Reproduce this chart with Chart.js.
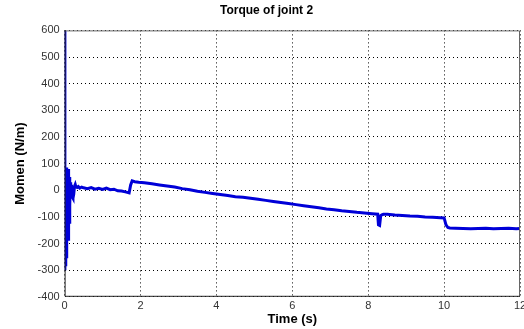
<!DOCTYPE html>
<html>
<head>
<meta charset="utf-8">
<script src="https://cdn.jsdelivr.net/npm/chart.js@4"></script>
<style>
  html, body { margin: 0; padding: 0; background: #fff; overflow: hidden; }
  #wrap { width: 540px; height: 329px; }
</style>
</head>
<body>
<div id="wrap"><canvas id="TorqueChart" width="540" height="329"></canvas></div>
<script>
const titleText = 'Torque of joint 2';
const xLabel = 'Time (s)';
const yLabel = 'Momen (N/m)';

// time (s) and torque (N/m)
const time = [
  0, 0.005, 0.01, 0.02, 0.03, 0.04, 0.05, 0.06, 0.07, 0.08, 0.09, 0.1, 0.11, 0.12, 0.13, 0.14, 0.15, 0.16,
  0.18, 0.2, 0.22, 0.24, 0.26, 0.28, 0.3, 0.33, 0.36, 0.4, 0.45, 0.5, 0.6, 0.7, 0.8, 0.9, 1.0,
  1.1, 1.2, 1.3, 1.4, 1.5, 1.6, 1.65, 1.7, 1.74, 1.78, 1.85, 1.95, 2.1, 2.3, 2.5, 2.7, 2.9,
  3.1, 3.3, 3.5, 3.7, 3.9, 4.1, 4.3, 4.5, 4.7, 4.9, 5.1, 5.3, 5.5, 5.7, 5.9, 6.1, 6.3, 6.5,
  6.7, 6.9, 7.1, 7.3, 7.5, 7.7, 7.9, 8.1, 8.25, 8.27, 8.3, 8.33, 8.36, 8.4, 8.5, 8.7, 8.9,
  9.1, 9.3, 9.5, 9.7, 9.9, 10.0, 10.05, 10.1, 10.15, 10.3, 10.5, 10.7, 10.9, 11.1, 11.3,
  11.5, 11.7, 11.9, 12
];
const torque = [
  600, -300, 80, -280, 75, -250, 85, -200, 70, -150, 80, -190, 60, -120, 50, -60, 30, -10,
  20, -25, -30, -15, 15, 22, 12, 10, 14, 8, 12, 9, 6, 10, 4, 7, 3,
  8, 2, 4, -2, -3, -6, -8, -10, 20, 35, 32, 30, 28, 24, 20, 16, 12,
  6, 2, -4, -8, -12, -16, -20, -24, -26, -30, -34, -38, -42, -46, -50, -54, -58, -62,
  -66, -70, -73, -77, -80, -83, -85, -88, -90, -130, -132, -95, -92, -90, -90, -93, -95,
  -97, -98, -100, -101, -103, -104, -130, -140, -142, -143, -144, -145, -144, -143, -145,
  -144, -143, -145, -144
];
const xTicks = [0, 2, 4, 6, 8, 10, 12];
const yTicks = [-400, -300, -200, -100, 0, 100, 200, 300, 400, 500, 600];

const points = time.map((t, i) => ({ x: t, y: torque[i] }));

const framePlugin = {
  id: 'frame',
  afterDraw(chart) {
    const a = chart.chartArea;
    const c = chart.ctx;
    c.save();
    c.strokeStyle = '#666';
    c.lineWidth = 1;
    c.beginPath();
    c.moveTo(a.left, a.top + 0.5);
    c.lineTo(a.right - 0.5, a.top + 0.5);
    c.lineTo(a.right - 0.5, a.bottom);
    c.stroke();
    c.strokeStyle = '#222';
    c.beginPath();
    c.moveTo(a.left + 0.5, a.top);
    c.lineTo(a.left + 0.5, a.bottom - 0.5);
    c.lineTo(a.right, a.bottom - 0.5);
    c.stroke();
    c.restore();
  }
};

const chart_config = {
  type: 'line',
  data: {
    datasets: [{
      label: 'Torque',
      data: points,
      borderColor: '#0000d8',
      borderWidth: 3,
      pointRadius: 0,
      tension: 0,
      fill: false
    }]
  },
  options: {
    responsive: false,
    animation: false,
    layout: { padding: { top: 0, right: 20, bottom: 0, left: 13 } },
    scales: {
      x: {
        type: 'linear',
        min: 0, max: 12,
        afterBuildTicks: s => { s.ticks = xTicks.map(v => ({ value: v })); },
        grid: { color: '#000', drawTicks: false },
        border: { display: false, dash: [1, 3] },
        ticks: { color: '#333', font: { family: 'Liberation Sans', size: 11 }, padding: 3, maxRotation: 0 },
        title: { display: true, text: xLabel, color: '#000', font: { family: 'Liberation Sans', size: 13, weight: 'bold', lineHeight: 1 }, padding: { top: -3, bottom: 3 } }
      },
      y: {
        min: -400, max: 600,
        afterBuildTicks: s => { s.ticks = yTicks.map(v => ({ value: v })); },
        grid: { color: '#000', drawTicks: false },
        border: { display: false, dash: [1, 3] },
        ticks: { color: '#333', font: { family: 'Liberation Sans', size: 11 }, padding: 5 },
        title: { display: true, text: yLabel, color: '#000', font: { family: 'Liberation Sans', size: 13, weight: 'bold' }, padding: { top: 0, bottom: 4 } }
      }
    },
    plugins: {
      legend: { display: false },
      tooltip: { enabled: false },
      title: {
        display: true,
        text: titleText,
        color: '#000',
        font: { family: 'Liberation Sans', size: 12, weight: 'bold' },
        padding: { top: 3, bottom: 13 }
      }
    }
  },
  plugins: [framePlugin]
};

new Chart(document.getElementById('TorqueChart'), chart_config);
</script>
</body>
</html>
